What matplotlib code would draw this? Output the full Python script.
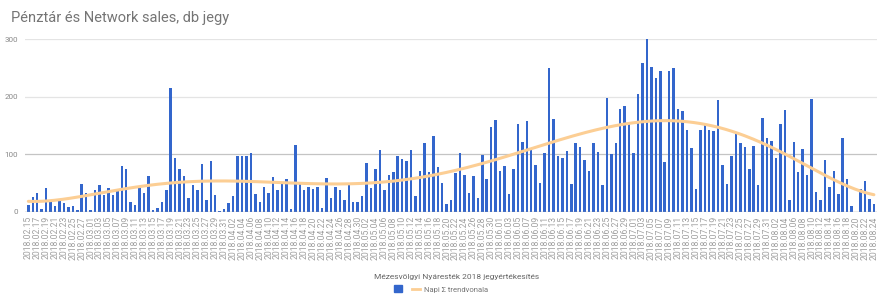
import numpy as np
import pandas as pd
import matplotlib
matplotlib.use('Agg')
import matplotlib.pyplot as plt
from matplotlib.patches import Patch
from matplotlib.lines import Line2D

plt.rcParams['font.family'] = ['Roboto', 'DejaVu Sans']

# napi jegyeladás (db), 2018.02.15 - 2018.08.24
start_date = '2018-02-15'
napi = [12, 26, 33, 6, 42, 21, 11, 20, 16, 9, 11, 3, 49, 33, 3, 39, 47, 29, 42, 30,
        36, 80, 74, 17, 13, 45, 33, 63, 3, 7, 18, 39, 215, 93, 75, 63, 24, 47, 39, 83,
        20, 88, 29, 1, 6, 16, 28, 97, 98, 98, 103, 31, 18, 43, 33, 61, 38, 50, 57, 6,
        116, 48, 38, 43, 40, 44, 7, 59, 25, 43, 39, 21, 50, 17, 18, 27, 85, 41, 74, 108,
        39, 65, 69, 98, 92, 88, 107, 27, 71, 120, 69, 132, 78, 50, 14, 20, 68, 103, 64, 33,
        63, 24, 99, 57, 148, 160, 71, 80, 32, 75, 152, 121, 158, 110, 82, 51, 102, 250, 161, 98,
        94, 105, 49, 120, 113, 90, 71, 120, 104, 46, 198, 101, 120, 179, 184, 155, 103, 205, 258, 301,
        252, 232, 245, 86, 245, 249, 179, 175, 143, 111, 40, 142, 155, 143, 141, 194, 81, 48, 98, 137,
        119, 113, 75, 115, 47, 163, 128, 124, 94, 152, 177, 20, 121, 70, 109, 64, 196, 35, 21, 91,
        43, 71, 32, 129, 58, 10, 0, 40, 54, 22, 14]

datumok = pd.date_range(start_date, periods=len(napi), freq='D')
cimkek = [d.strftime('%Y.%m.%d') for d in datumok]
x = np.arange(len(napi))

# polinomos trendvonal (6. fok)
n = len(napi) - 1
coef = np.polyfit(x / n, napi, 6)
xt = np.linspace(0, n, 400)
yt = np.polyval(coef, xt / n)

fig = plt.figure(figsize=(8.77, 3.02), dpi=100)
ax = fig.add_axes([25 / 877, 1 - 212 / 302, 1 - 25 / 877, (212 - 38.5) / 302])

ax.bar(x, napi, width=0.56, color='#3366cc', zorder=3)
ax.plot(xt, yt, color='#fcce94', lw=2.2, zorder=4, solid_capstyle='round')

ax.set_xlim(-0.75, len(napi) - 0.3)
ax.set_ylim(0, 301)
ax.set_yticks([0, 100, 200, 300])
ax.tick_params(axis='y', length=0, labelsize=5.8, labelcolor='#888888', pad=5)
ax.set_xticks(x[::2])
ax.set_xticklabels(cimkek[::2], rotation=90, fontsize=6.2, color='#a0a0a0')
ax.tick_params(axis='x', length=0, pad=3)

for v in [200, 300]:
    ax.axhline(v, color='#e4e4e4', lw=0.9, zorder=1)
ax.axhline(100, color='#c4c4c4', lw=0.9, zorder=1)
ax.axhline(0, color='#9a9a9a', lw=1.0, zorder=5)
for s in ax.spines.values():
    s.set_visible(False)

fig.text(11 / 877, 1 - 18 / 302, 'Pénztár és Network sales, db jegy', fontsize=10.5,
         color='#757575', va='center', ha='left')
fig.text(457 / 877, 1 - 277 / 302, 'Mézesvölgyi Nyáresték 2018 jegyértékesítés',
         fontsize=6, color='#666666', ha='center', va='center')

handles = [Patch(color='#3366cc', label=' '),
           Line2D([], [], color='#fcce94', lw=2, label='Napi Σ trendvonala')]
fig.legend(handles=handles, ncol=2, loc='center', bbox_to_anchor=(441 / 877, 1 - 289 / 302),
           frameon=False, fontsize=5.5, labelcolor='#757575', handlelength=1.0,
           handleheight=1.0, columnspacing=0.6, handletextpad=0.5)

fig.savefig('out.png', dpi=100)
